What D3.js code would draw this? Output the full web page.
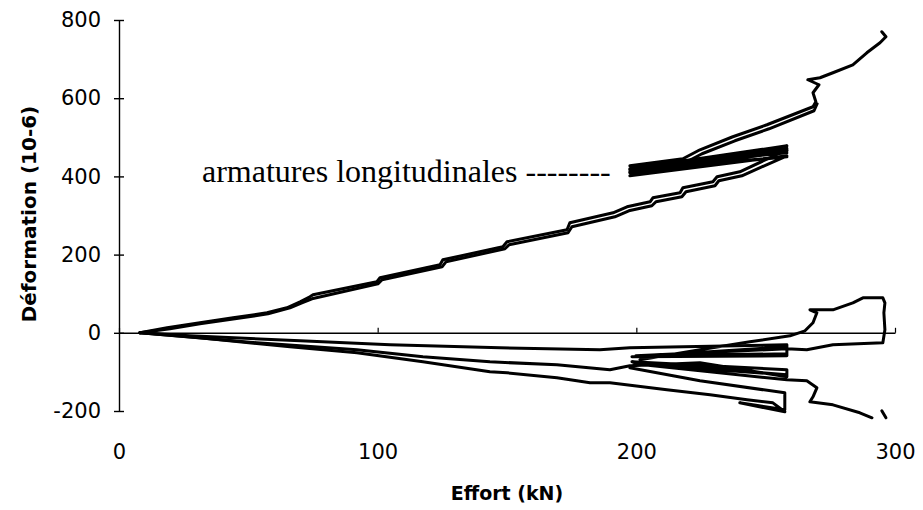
<!DOCTYPE html>
<html>
<head>
<meta charset="utf-8">
<script src="https://cdn.jsdelivr.net/npm/d3@7"></script>
<style>
  html, body { margin: 0; padding: 0; background: #fff; }
  svg { display: block; }
</style>
</head>
<body>
<svg id="chart" width="923" height="510"></svg>
<script>
// ---- data (Effort kN, Déformation 10-6) ----
const xTicks = [0, 100, 200, 300];
const yTicks = [-200, 0, 200, 400, 600, 800];
const xTitle = "Effort (kN)";
const yTitle = "Déformation (10-6)";
const annotation = "armatures longitudinales --------";

// longitudinal gauge 1 (upper band, first line)
const long1 = [
  [8.1,0],[18.6,12.8],[31.3,25.6],[44.1,38.4],[57.2,51.2],[64.9,64.0],[70.0,79.3],[73.8,92.1],
  [75.0,97.2],[99.7,130.5],[100.9,140.7],[124.1,173.9],[125.2,186.7],[148.4,220.0],[150.0,232.8],
  [173.2,263.5],[174.3,281.4],[191.0,307.0],[196.4,322.3],[205.3,335.1],[206.4,345.3],[216.9,358.1],
  [218.0,370.9],[229.6,386.3],[231.2,399.0],[240.0,411.8],[258.2,468.1],[197.5,411.8],[258.2,478.3],
  [197.5,419.5],[258.2,460.4],[197.5,427.2],[218.0,445.1],[224.6,468.1],[237.3,501.4],[250.5,532.1],
  [268.3,578.1],[269.4,590.9],[268.3,613.9],[270.6,634.4],[266.3,647.2],[271.0,652.3],[276.0,665.1],
  [283.7,685.5],[289.1,716.2],[294.2,741.8],[296.5,757.2],[294.9,770.0]
];
// longitudinal gauge 2 (upper band, second line)
const long2 = [
  [8.1,0],[19.7,10.2],[31.3,23.0],[44.8,35.8],[57.6,48.6],[66.1,64.0],[70.7,76.7],[74.6,87.0],
  [100.1,125.3],[101.7,135.6],[124.9,168.8],[126.4,181.6],[149.2,214.9],[150.8,225.1],[173.6,255.8],
  [175.1,271.1],[191.7,296.7],[197.1,312.1],[206.0,324.9],[207.6,335.1],[217.6,347.9],[219.2,360.7],
  [230.4,376.0],[231.9,388.8],[240.8,401.6],[258.2,452.8],[197.5,401.6],[258.2,465.6],[197.5,409.3],
  [258.2,450.2],[197.5,417.0],[258.2,472.0],[198.5,423.0],[218.8,434.9],[225.4,457.9],[238.1,491.1],
  [251.3,521.8],[268.7,567.9],[269.9,585.8]
];
// lower gauges
const gaugeA = [
  [8.1,0],[27.4,-7.7],[70.0,-20.5],[104.8,-30.7],[147.3,-38.4],[185.9,-43.5],[197.5,-38.4],
  [258.2,-30.7],[258.2,-58.8],[198.3,-61.4],[258.2,-35.8],[258.2,-53.7],[199.8,-58.8],[258.2,-40.9],
  [265.9,-43.5],[276.0,-30.7],[295.3,-25.6],[296.1,7.7],[295.7,51.2],[296.1,76.7],[295.3,89.5],
  [287.6,89.5],[283.7,76.7],[276.0,58.8],[267.1,58.8],[269.8,51.2],[268.3,25.6],[265.2,5.1],
  [259.4,-7.7],[243.9,-23.0],[224.6,-43.5],[201.4,-69.1]
];
const gaugeB = [
  [8.1,0],[53.3,-25.6],[92.0,-43.5],[117.5,-61.4],[143.4,-74.2],[169.3,-81.9],[189.8,-94.6],
  [197.5,-84.4],[224.6,-76.7],[258.2,-112.6],[258.2,-94.6],[198.3,-74.2],[258.2,-107.4],[199.1,-79.3],
  [258.2,-120.2],[265.9,-122.8],[269.8,-140.7],[268.3,-163.7],[267.1,-176.5],[276.0,-184.2],
  [286.4,-204.6],[291.1,-217.4]
];
const gaugeBtail = [[294.9,-199.5],[296.5,-217.4]];
const gaugeC = [
  [8.1,0],[31.3,-12.8],[66.1,-35.8],[92.0,-51.2],[117.5,-74.2],[143.4,-99.8],[150.0,-102.3],
  [169.3,-115.1],[182.1,-127.9],[189.8,-127.9],[211.8,-145.8],[228.5,-158.6],[242.8,-171.4],
  [252.8,-179.1],[257.4,-202.1],[240.0,-179.1],[257.4,-196.9],[257.4,-153.5],[224.6,-122.8],
  [197.5,-89.5]
];
const seriesList = [long1, long2, gaugeA, gaugeB, gaugeBtail, gaugeC];

// ---- drawing ----
const svg = d3.select("#chart");
const x = d3.scaleLinear().domain([0, 300]).range([119, 895]);
const y = d3.scaleLinear().domain([-200, 800]).range([411, 20]);

const tickFont = "'DejaVu Sans', sans-serif";

// y axis
const gy = svg.append("g").attr("transform", `translate(${x(0)},0)`)
  .call(d3.axisLeft(y).tickValues(yTicks).tickFormat(d => String(d))
    .tickSizeInner(5).tickSizeOuter(0).tickPadding(13));
gy.select(".domain").attr("stroke", "#000").attr("stroke-width", 1.4);
gy.selectAll(".tick line").attr("stroke", "#000").attr("stroke-width", 1.4);
gy.selectAll(".tick").append("line").attr("x1", 0).attr("x2", 5).attr("stroke", "#000").attr("stroke-width", 1.4);
gy.selectAll(".tick text").attr("font-family", tickFont).attr("font-size", 21).attr("fill", "#000");

// zero line (x axis) with small upward ticks
const gx = svg.append("g").attr("transform", `translate(0,${y(0)})`)
  .call(d3.axisBottom(x).tickValues(xTicks).tickSizeInner(-5).tickSizeOuter(0).tickFormat(""));
gx.select(".domain").attr("stroke", "#000").attr("stroke-width", 1.4);
gx.selectAll(".tick line").attr("stroke", "#000").attr("stroke-width", 1.2);

// x tick labels at bottom
const gxl = svg.append("g").attr("transform", `translate(0,440)`)
  .call(d3.axisBottom(x).tickValues(xTicks).tickFormat(d => String(d)).tickSize(0).tickPadding(4));
gxl.select(".domain").remove();
gxl.selectAll(".tick text").attr("font-family", tickFont).attr("font-size", 21).attr("fill", "#000");

// axis titles
svg.append("text")
  .attr("transform", `translate(36,214) rotate(-90)`)
  .attr("text-anchor", "middle")
  .attr("font-family", tickFont).attr("font-weight", "bold").attr("font-size", 20)
  .text(yTitle);
svg.append("text")
  .attr("x", (x(0) + x(300)) / 2).attr("y", 500)
  .attr("text-anchor", "middle")
  .attr("font-family", tickFont).attr("font-weight", "bold").attr("font-size", 19)
  .text(xTitle);

// annotation
svg.append("text")
  .attr("x", 202).attr("y", 182)
  .attr("font-family", "'Liberation Serif', 'Times New Roman', serif").attr("font-size", 32)
  .text(annotation);

// curves
const line = d3.line().x(d => x(d[0])).y(d => y(d[1]));
svg.append("g").selectAll("path").data(seriesList).join("path")
  .attr("d", line)
  .attr("fill", "none")
  .attr("stroke", "#000")
  .attr("stroke-width", 3)
  .attr("stroke-linejoin", "round")
  .attr("stroke-linecap", "round");
</script>
</body>
</html>
